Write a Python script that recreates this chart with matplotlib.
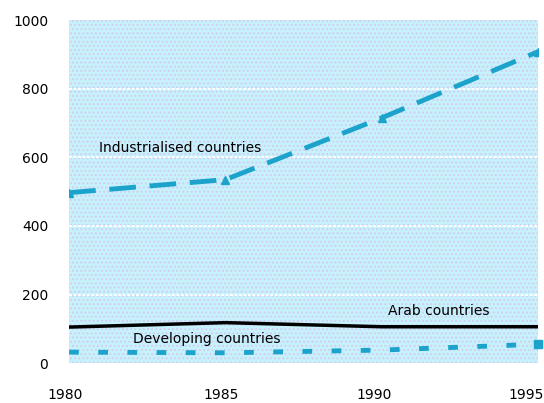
import matplotlib
matplotlib.use("Agg")
import matplotlib.pyplot as plt
from matplotlib.patches import Rectangle
from matplotlib.transforms import ScaledTranslation

years = [1980, 1985, 1990, 1995]
industrialised = [497, 535, 715, 908]
arab = [105, 118, 106, 106]
developing = [32, 30, 38, 55]
yticks = [0, 200, 400, 600, 800, 1000]

fig = plt.figure(figsize=(5.44, 4.03), dpi=100)
ax = fig.add_axes([0.127, 0.099, 0.862, 0.851])
ax.set_xlim(1980, 1995)
ax.set_ylim(0, 1000)
ax.set_facecolor('#c6f3fb')
bg = Rectangle((0, 0), 1, 1, transform=ax.transAxes, facecolor='none',
               edgecolor='#d2cdf2', hatch='....', linewidth=0, zorder=0.5)
ax.add_patch(bg)
for s in ax.spines.values():
    s.set_visible(False)

for v in [200, 400, 600, 800]:
    ax.axhline(v, color='white', lw=1.4, ls=(0, (1.5, 0.8)), zorder=1)

blue = '#1ca3cc'
ax.plot(years, industrialised, color=blue, lw=3.5, ls=(0, (5.5, 2.8)),
        marker='^', markersize=6, zorder=3)
ax.plot(years, arab, color='black', lw=2.5, zorder=3)
ax.plot(years, developing, color=blue, lw=3.5, ls=(0, (2, 4)), zorder=3)
ax.plot([years[-1]], [developing[-1]], marker='s', color=blue, markersize=6,
        clip_on=False, zorder=3)

ax.text(1980.95, 628, 'Industrialised countries', fontsize=10, va='center', color='black')
ax.text(1990.2, 151, 'Arab countries', fontsize=10, va='center', color='black')
ax.text(1982.03, 70, 'Developing countries', fontsize=10, va='center', color='black')

ax.set_yticks(yticks)
ax.set_yticklabels([str(v) for v in yticks], fontsize=10)
ax.set_xticks(years)
ax.set_xticklabels([str(y) for y in years], fontsize=10)
ax.tick_params(axis='both', length=0)
ax.tick_params(axis='y', pad=15)
ax.tick_params(axis='x', pad=18)
offsets = [-4, -4, -8, -12]
for lab, dx in zip(ax.get_xticklabels(), offsets):
    lab.set_transform(lab.get_transform() + ScaledTranslation(dx / 100, 0, fig.dpi_scale_trans))

fig.savefig('out.png', dpi=100)
